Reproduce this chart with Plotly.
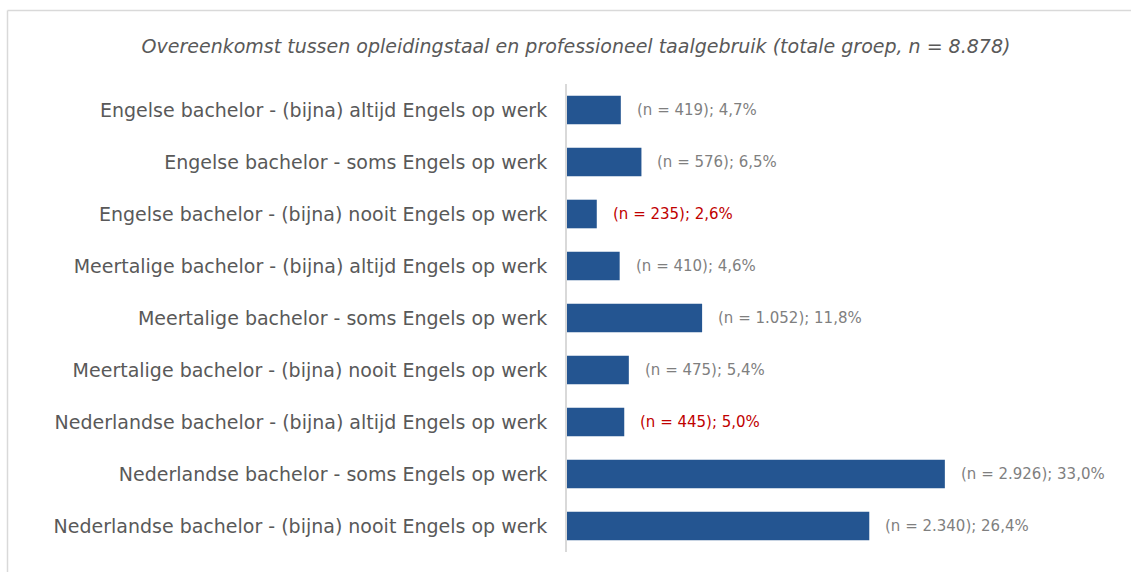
import plotly.graph_objects as go

categories = [
    "Engelse bachelor - (bijna) altijd Engels op werk",
    "Engelse bachelor - soms Engels op werk",
    "Engelse bachelor - (bijna) nooit Engels op werk",
    "Meertalige bachelor - (bijna) altijd Engels op werk",
    "Meertalige bachelor - soms Engels op werk",
    "Meertalige bachelor - (bijna) nooit Engels op werk",
    "Nederlandse bachelor - (bijna) altijd Engels op werk",
    "Nederlandse bachelor - soms Engels op werk",
    "Nederlandse bachelor - (bijna) nooit Engels op werk",
]
counts = ["419", "576", "235", "410", "1.052", "475", "445", "2.926", "2.340"]
percentages = [4.7, 6.5, 2.6, 4.6, 11.8, 5.4, 5.0, 33.0, 26.4]
highlighted = [False, False, True, False, False, False, True, False, False]
title_text = "Overeenkomst tussen opleidingstaal en professioneel taalgebruik (totale groep, n = 8.878)"

W, H = 1131, 572
ML, MR, MT, MB = 567, 14, 84, 20
PW, PH = W - ML - MR, H - MT - MB
FONT = "DejaVu Sans"

fig = go.Figure()
fig.add_trace(go.Bar(
    x=percentages, y=categories, orientation="h",
    marker=dict(color="#245591", line=dict(width=0)),
    width=0.55, hoverinfo="skip",
))

for cat, n, p, hl in zip(categories, counts, percentages, highlighted):
    label = f"(n = {n}); " + f"{p:.1f}".replace(".", ",") + "%"
    fig.add_annotation(
        x=p, y=cat, xref="x", yref="y", text=label, showarrow=False,
        xanchor="left", yanchor="middle", xshift=14,
        font=dict(family=FONT, size=15, color="#C00000" if hl else "#7F7F7F"),
    )

# outer frame (top and left edges visible)
fx = (7.5 - ML) / PW
fy = (H - MB - 10.5) / PH
fig.add_shape(type="line", xref="paper", yref="paper", x0=fx, x1=fx, y0=-0.2, y1=fy,
              line=dict(color="#D9D9D9", width=1.5))
fig.add_shape(type="line", xref="paper", yref="paper", x0=fx, x1=1.2, y0=fy, y1=fy,
              line=dict(color="#D9D9D9", width=1.5))

fig.update_layout(
    width=W, height=H,
    margin=dict(l=ML, r=MR, t=MT, b=MB),
    paper_bgcolor="white", plot_bgcolor="white",
    showlegend=False,
    title=dict(text=f"<i>{title_text}</i>", x=576 / W, xref="container",
               xanchor="center", y=1 - 46 / H, yanchor="middle",
               font=dict(family=FONT, size=19, color="#595959")),
    xaxis=dict(range=[0, PW / 11.45], visible=False, fixedrange=True),
    yaxis=dict(autorange="reversed", showgrid=False, zeroline=False,
               showline=True, linecolor="#D9D9D9", linewidth=2,
               ticks="", ticklabelstandoff=14, fixedrange=True,
               tickfont=dict(family=FONT, size=19, color="#595959")),
)

fig.write_html("out.html", config={"displayModeBar": False},
               post_script="document.body.style.margin='0';")
